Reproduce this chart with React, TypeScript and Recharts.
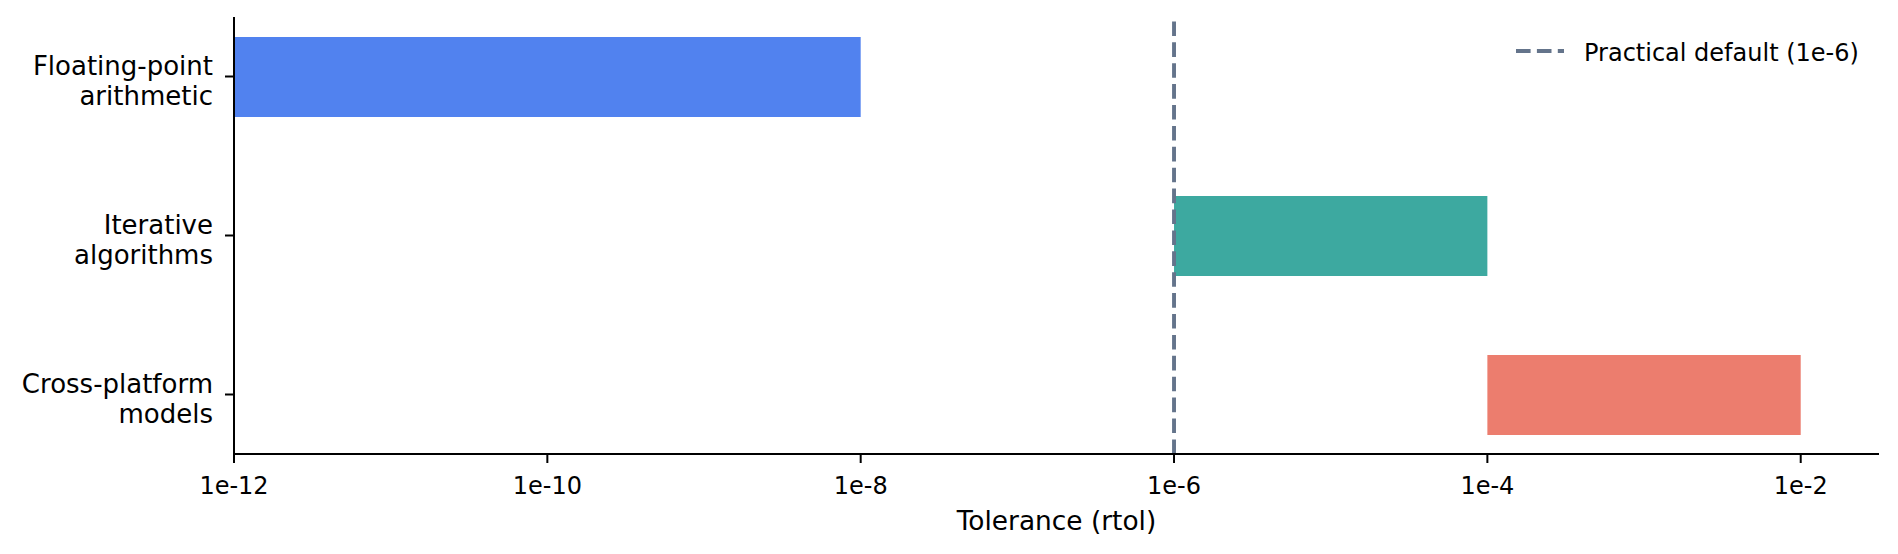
import React from 'react'
import {
  BarChart,
  Bar,
  Cell,
  XAxis,
  YAxis,
  ReferenceLine,
  Legend
} from 'recharts'

// chart values
const categories = ['Floating-point\narithmetic', 'Iterative\nalgorithms', 'Cross-platform\nmodels']
const lowerBounds = [1e-12, 1e-6, 1e-4]
const upperBounds = [1e-8, 1e-4, 1e-2]
const xTicks = [1e-12, 1e-10, 1e-8, 1e-6, 1e-4, 1e-2]
const xDomain = [1e-12, 0.0316]
const practicalDefault = 1e-6
const legendLabel = 'Practical default (1e-6)'
const xLabel = 'Tolerance (rtol)'

const barColors = ['#5182ef', '#3da9a0', '#ec7d6e']
const refColor = '#64748b'
const FONT = '"DejaVu Sans", sans-serif'

const data = categories.map((name, i) => ({
  name,
  range: [lowerBounds[i], upperBounds[i]]
}))

const formatTick = (v: number) => `1e${Math.round(Math.log10(v))}`

const CategoryTick = (props: any) => {
  const { x, y, payload } = props
  const lines = String(payload.value).split('\n')
  return (
    <text x={x} y={y} textAnchor="end" fontFamily={FONT} fontSize={26} fill="#000">
      {lines.map((line, i) => (
        <tspan key={i} x={x} y={y - 1.8 + i * 30}>
          {line}
        </tspan>
      ))}
    </text>
  )
}

const LegendContent = () => (
  <svg width={380} height={40}>
    <line x1={0} x2={48} y1={20} y2={20} stroke={refColor} strokeWidth={3.9} strokeDasharray="14.6 6.3" />
    <text x={68} y={29.7} fontFamily={FONT} fontSize={24} fill="#000">
      {legendLabel}
    </text>
  </svg>
)

export default function App() {
  return (
    <div style={{ width: 1898, height: 554, background: '#fff' }}>
      <style>{'body{margin:0;}'}</style>
      <BarChart
        width={1898}
        height={554}
        data={data}
        layout="vertical"
        margin={{ top: 17, right: 19, bottom: 0, left: 0 }}
      >
        <XAxis
          type="number"
          scale="log"
          domain={xDomain}
          allowDataOverflow
          ticks={xTicks}
          tickFormatter={formatTick}
          height={100}
          tickSize={9}
          tickMargin={14}
          tick={{ fontSize: 24, fill: '#000', fontFamily: FONT }}
          axisLine={{ stroke: '#000', strokeWidth: 2 }}
          tickLine={{ stroke: '#000', strokeWidth: 2 }}
          label={{
            content: ({ viewBox }: any) => (
              <text
                x={viewBox.x + viewBox.width / 2}
                y={viewBox.y + 76}
                textAnchor="middle"
                fontFamily={FONT}
                fontSize={26.4}
                fill="#000"
              >
                {xLabel}
              </text>
            )
          }}
        />
        <YAxis
          type="category"
          dataKey="name"
          width={234}
          padding={{ top: -20, bottom: -20 }}
          tickSize={9}
          tickMargin={12}
          tick={<CategoryTick />}
          axisLine={{ stroke: '#000', strokeWidth: 2 }}
          tickLine={{ stroke: '#000', strokeWidth: 2 }}
          interval={0}
        />
        <Bar dataKey="range" barSize={80} isAnimationActive={false}>
          {data.map((_, i) => (
            <Cell key={i} fill={barColors[i]} />
          ))}
        </Bar>
        <ReferenceLine
          x={practicalDefault}
          stroke={refColor}
          strokeWidth={3.9}
          strokeDasharray="14.6 6.3"
        />
        <Legend
          layout="vertical"
          align="center"
          verticalAlign="middle"
          content={<LegendContent />}
          wrapperStyle={{ position: 'absolute', left: 1516, top: 31, width: 380, height: 40 }}
        />
      </BarChart>
    </div>
  )
}
